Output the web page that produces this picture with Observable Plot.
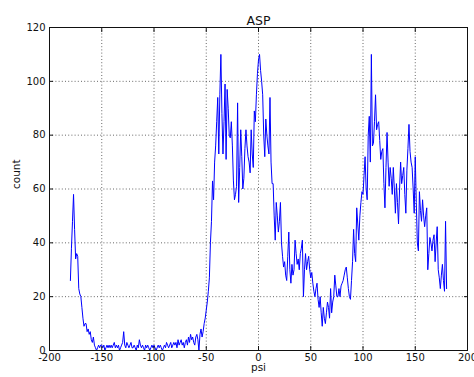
<!DOCTYPE html>
<html>
<head>
<meta charset="utf-8">
<script src="https://cdn.jsdelivr.net/npm/d3@7"></script>
<script src="https://cdn.jsdelivr.net/npm/@observablehq/plot@0.6"></script>
<style>
  html, body { margin: 0; padding: 0; background: #fff; }
</style>
</head>
<body>
<div id="chart"></div>
<script>
const title = "ASP";
const xLabel = "psi";
const yLabel = "count";
const xTicks = [-200, -150, -100, -50, 0, 50, 100, 150, 200];
const yTicks = [0, 20, 40, 60, 80, 100, 120];

// psi angle grid (degrees), one bin per degree
const psi = d3.range(-180, 181);
// counts, psi = -180 ... 180
const count = [
  26, 38, 48, 58, 45, 34, 36, 35, 23, 21,   // -180..-171
  20, 16, 12, 9, 10, 10, 7, 8, 6, 7,        // -170..-161
  4, 3, 5, 2, 1, 0, 1, 2, 1, 2,             // -160..-151
  2, 1, 2, 0, 1, 2, 1, 2, 1, 2,             // -150..-141
  1, 2, 3, 1, 2, 1, 2, 0, 1, 2,             // -140..-131
  3, 7, 2, 1, 3, 2, 1, 2, 3, 1,             // -130..-121
  1, 2, 1, 0, 2, 1, 4, 2, 1, 2,             // -120..-111
  1, 0, 2, 1, 2, 1, 0, 1, 2, 1,             // -110..-101
  2, 1, 0, 1, 2, 1, 2, 1, 0, 1,             // -100..-91
  2, 1, 3, 2, 1, 2, 3, 1, 2, 3,             // -90..-81
  2, 3, 1, 4, 2, 3, 4, 2, 3, 1,             // -80..-71
  3, 4, 2, 5, 3, 6, 4, 5, 3, 2,             // -70..-61
  5, 6, 4, 0, 6, 8, 5, 7, 10, 12,           // -60..-51
  15, 18, 22, 27, 40, 48, 63, 56, 70, 76,   // -50..-41
  85, 94, 73, 95, 110, 88, 73, 85, 99, 71,  // -40..-31
  97, 90, 80, 79, 85, 76, 63, 56, 58, 61,   // -30..-21
  92, 55, 68, 82, 72, 60, 64, 75, 82, 76,   // -20..-11
  72, 70, 66, 82, 73, 68, 89, 85, 95, 103,  // -10..-1
  108, 110, 104, 100, 95, 80, 72, 86, 80, 76, // 0..9
  73, 94, 70, 62, 62, 50, 41, 55, 50, 44,   // 10..19
  48, 55, 40, 35, 31, 33, 28, 26, 35, 44,   // 20..29
  30, 25, 32, 28, 30, 41, 36, 32, 34, 30,   // 30..39
  36, 38, 41, 20, 30, 36, 30, 33, 35, 30,   // 40..49
  27, 29, 25, 22, 20, 23, 25, 19, 16, 20,   // 50..59
  14, 9, 16, 12, 10, 14, 18, 16, 12, 23,    // 60..69
  14, 18, 20, 28, 24, 20, 20, 23, 20, 24,   // 70..79
  25, 26, 28, 30, 31, 27, 23, 20, 19, 26,   // 80..89
  33, 45, 36, 33, 53, 47, 41, 50, 55, 59,   // 90..99
  58, 65, 72, 60, 56, 80, 87, 70, 110, 76,  // 100..109
  77, 85, 95, 82, 84, 85, 78, 71, 74, 75,   // 110..119
  62, 53, 68, 81, 70, 61, 68, 64, 58, 68,   // 120..129
  60, 51, 62, 55, 47, 60, 70, 62, 65, 68,   // 130..139
  58, 51, 67, 75, 84, 74, 70, 68, 60, 51,   // 140..149
  72, 55, 40, 37, 59, 52, 48, 56, 50, 46,   // 150..159
  50, 53, 30, 36, 42, 40, 37, 41, 43, 33,   // 160..169
  40, 46, 30, 27, 23, 28, 32, 26, 22, 48,   // 170..179
  23                                        // 180
];

const data = psi.map((p, i) => ({psi: p, count: count[i]}));
const fmt = d => String(d);
const blank = () => "";
const gridStyle = {stroke: "#000", strokeOpacity: 0.75, strokeWidth: 0.8, strokeDasharray: "1,2.2"};

const chart = Plot.plot({
  width: 474,
  height: 377,
  marginLeft: 49,
  marginRight: 7,
  marginTop: 27,
  marginBottom: 27,
  style: {fontFamily: "DejaVu Sans, sans-serif", fontSize: "10px", color: "#111", background: "#fff"},
  x: {domain: [-200, 200], label: null},
  y: {domain: [0, 120], label: null},
  marks: [
    Plot.gridX(xTicks.slice(1, -1), gridStyle),
    Plot.gridY(yTicks.slice(1, -1), gridStyle),
    Plot.line(data, {x: "psi", y: "count", stroke: "#0000ff", strokeWidth: 1}),
    Plot.frame({stroke: "#111", strokeWidth: 1}),
    // inward tick marks on all four sides
    Plot.axisX(xTicks, {anchor: "bottom", tickSize: 4, dy: -4, tickFormat: blank, label: null, stroke: "#111"}),
    Plot.axisX(xTicks, {anchor: "top", tickSize: 4, dy: 4, tickFormat: blank, label: null, stroke: "#111"}),
    Plot.axisY(yTicks, {anchor: "left", tickSize: 4, dx: 4, tickFormat: blank, label: null, stroke: "#111"}),
    Plot.axisY(yTicks, {anchor: "right", tickSize: 4, dx: -4, tickFormat: blank, label: null, stroke: "#111"}),
    // tick labels
    Plot.axisX(xTicks, {anchor: "bottom", tickSize: 0, tickPadding: 3, tickFormat: fmt, label: null}),
    Plot.axisY(yTicks, {anchor: "left", tickSize: 0, tickPadding: 4, tickFormat: fmt, label: null}),
    Plot.text([title], {frameAnchor: "top", dy: -11, fontSize: 12.5, fill: "#111"}),
    Plot.text([xLabel], {frameAnchor: "bottom", dy: 20, fontSize: 10.5, fill: "#111"}),
    Plot.text([yLabel], {frameAnchor: "left", dx: -33, rotate: -90, fontSize: 10.5, fill: "#111"})
  ]
});
document.getElementById("chart").appendChild(chart);
</script>
</body>
</html>
